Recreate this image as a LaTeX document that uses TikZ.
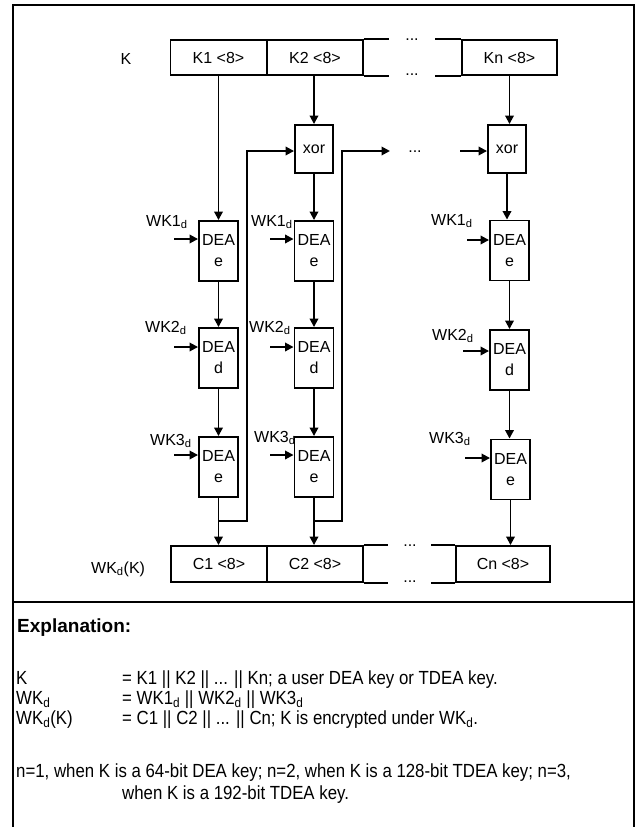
\documentclass[tikz,border=0pt]{standalone}
\usepackage{fontspec}
\setmainfont{Liberation Sans}
\newfontfamily\expfont{Liberation Sans}[FakeStretch=0.885]
\usetikzlibrary{arrows.meta,calc}
\newcommand\fsD{\fontsize{16}{21}\selectfont}
\newcommand\fsE{\expfont\fontsize{19}{20}\selectfont}
\newcommand\fsH{\fontsize{19}{20}\selectfont\bfseries}
\begin{document}
\begin{tikzpicture}[x=1pt,y=-1pt,
  box/.style={draw,line width=1.9pt,inner sep=0pt,font=\fsD},
  cell/.style={box,minimum width=96pt,minimum height=35pt},
  dea/.style={box,minimum width=39pt,minimum height=60pt,align=center},
  xorbox/.style={box,minimum width=38pt,minimum height=48pt},
  arr/.style={line width=1.9pt,-{Triangle[length=8.5pt,width=8.5pt]}},
  ln/.style={line width=1.9pt},
  frame/.style={line width=2.4pt},
  lbl/.style={font=\fsD,inner sep=0pt,anchor=base west},
  dots/.style={font=\fsD,inner sep=0pt,anchor=base},
  expl/.style={font=\fsE,inner sep=0pt,anchor=base west},
]
\useasboundingbox (0,0) rectangle (638,827);
% frame
\draw[frame] (13,829) -- (13,5) -- (634,5) -- (634,829);
\draw[frame] (13,602) -- (634,602);

% K row
\node[font=\fsD,inner sep=0pt] (klbl) at (126,59) {K};
\node[cell] (k1) at (218.5,57.5) {K1 <8>};
\node[cell] (k2) at (315,57.5) {K2 <8>};
\node[cell,minimum width=95pt] (kn) at (509.5,57.5) {Kn <8>};
\draw[ln] (k2.north east) -- ++(25,0);
\draw[ln] (k2.south east) -- ++(25,0);
\draw[ln] (kn.north west) -- ++(-26,0);
\draw[ln] (kn.south west) -- ++(-26,0);
\node[dots] (kdt1) at (412,40.5) {...};
\node[dots] (kdt2) at (412,75.5) {...};

% xor boxes
\node[xorbox] (xor2) at (314,149) {xor};
\node[xorbox] (xorn) at (507,149) {xor};

% DEA boxes
\node[dea] (e1a) at (218.5,251) {DEA\\e};
\node[dea] (da) at (218.5,358) {DEA\\d};
\node[dea] (e3a) at (218.5,467) {DEA\\e};
\node[dea] (e1b) at (314,251) {DEA\\e};
\node[dea] (db) at (314,358) {DEA\\d};
\node[dea] (e3b) at (314,467) {DEA\\e};
\node[dea] (e1n) at (509.5,250.5) {DEA\\e};
\node[dea] (dn) at (509.5,360) {DEA\\d};
\node[dea] (e3n) at (510.5,469.5) {DEA\\e};

% C row
\node[font=\fsD,inner sep=0pt,anchor=base west] (wklbl) at (91,573) {WK\textsubscript{d}(K)};
\node[cell,minimum height=36pt] (c1) at (219,564) {C1 <8>};
\node[cell,minimum height=36pt] (c2) at (315,564) {C2 <8>};
\node[cell,minimum height=36pt,minimum width=94pt] (cn) at (503,564) {Cn <8>};
\draw[ln] (c2.north east) -- ++(24,0);
\draw[ln] (c2.south east) -- ++(24,0);
\draw[ln] (cn.north west) -- ++(-24,0);
\draw[ln] (cn.south west) -- ++(-24,0);
\node[dots] (cdt1) at (410,546.5) {...};
\node[dots] (cdt2) at (410,582.5) {...};

% vertical flow column 1
\draw[arr] (k1.south) -- (e1a.north);
\draw[arr] (e1a.south) -- (da.north);
\draw[arr] (da.south) -- (e3a.north);
\draw[arr] (e3a.south) -- (e3a.south |- c1.north);
% column 2
\draw[arr] (xor2.north |- k2.south) -- (xor2.north);
\draw[arr] (xor2.south) -- (e1b.north);
\draw[arr] (e1b.south) -- (db.north);
\draw[arr] (db.south) -- (e3b.north);
\draw[arr] (e3b.south) -- (e3b.south |- c2.north);
% column n
\draw[arr] (kn.south) -- (kn.south |- xorn.north);
\draw[arr] (xorn.south) -- (xorn.south |- e1n.north);
\draw[arr] (e1n.south) -- (dn.north);
\draw[arr] (dn.south) -- (dn.south |- e3n.north);
\draw[arr] (e3n.south) -- (e3n.south |- cn.north);

% feedback
\coordinate (ja) at (218.5,521);
\coordinate (fa) at (247,151);
\draw[arr] (ja) -| (fa) -- (fa -| xor2.west);
\coordinate (jb) at (314,521);
\coordinate (fb) at (342,151);
\coordinate (fbe) at (390,151);
\draw[arr] (jb) -| (fb) -- (fbe);
\node[dots] (mdt) at (415,152) {...};
\coordinate (fn) at (460,151);
\draw[arr] (fn) -- (fn -| xorn.west);

% key inputs
\coordinate (ia1) at (174,239); \draw[arr] (ia1) -- (ia1 -| e1a.west);
\coordinate (ia2) at (174,347); \draw[arr] (ia2) -- (ia2 -| da.west);
\coordinate (ia3) at (174,455); \draw[arr] (ia3) -- (ia3 -| e3a.west);
\coordinate (ib1) at (270,239); \draw[arr] (ib1) -- (ib1 -| e1b.west);
\coordinate (ib2) at (270,347); \draw[arr] (ib2) -- (ib2 -| db.west);
\coordinate (ib3) at (270,455); \draw[arr] (ib3) -- (ib3 -| e3b.west);
\coordinate (in1) at (467,240); \draw[arr] (in1) -- (in1 -| e1n.west);
\coordinate (in2) at (463,351); \draw[arr] (in2) -- (in2 -| dn.west);
\coordinate (in3) at (465,458); \draw[arr] (in3) -- (in3 -| e3n.west);

\node[lbl] (la1) at (146,226) {WK1\textsubscript{d}};
\node[lbl] (la2) at (145,332) {WK2\textsubscript{d}};
\node[lbl] (la3) at (150,445) {WK3\textsubscript{d}};
\node[lbl] (lb1) at (251,226) {WK1\textsubscript{d}};
\node[lbl] (lb2) at (249,332) {WK2\textsubscript{d}};
\node[lbl] (lb3) at (254,442) {WK3\textsubscript{d}};
\node[lbl] (ln1) at (431,225) {WK1\textsubscript{d}};
\node[lbl] (ln2) at (432,340) {WK2\textsubscript{d}};
\node[lbl] (ln3) at (429,443) {WK3\textsubscript{d}};

% explanation
\node[expl,font=\fsH] (exh) at (17,632) {Explanation:};
\node[expl] (e1l) at (16,684) {K};
\node[expl] (e1r) at (122,684) {= K1 || K2 || ... || Kn; a user DEA key or TDEA key.};
\node[expl] (e2l) at (16,704) {WK\textsubscript{d}};
\node[expl] (e2r) at (122,704) {= WK1\textsubscript{d} || WK2\textsubscript{d} || WK3\textsubscript{d}};
\node[expl] (e3l) at (16,724) {WK\textsubscript{d}(K)};
\node[expl] (e3r) at (122,724) {= C1 || C2 || ... || Cn; K is encrypted under WK\textsubscript{d}.};
\node[expl] (e4) at (16,777) {n=1, when K is a 64-bit DEA key; n=2, when K is a 128-bit TDEA key; n=3,};
\node[expl] (e5) at (122,799) {when K is a 192-bit TDEA key.};
\end{tikzpicture}
\end{document}
